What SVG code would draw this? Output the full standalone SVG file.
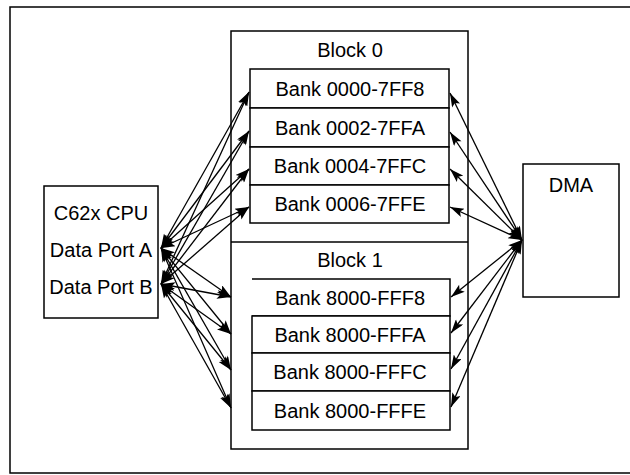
<svg xmlns="http://www.w3.org/2000/svg" width="630" height="475" viewBox="0 0 630 475">
<style>
.box{fill:#fff;stroke:#000;stroke-width:1.5}
.ln{fill:none;stroke:#000;stroke-width:1.5}
.t{font-family:"Liberation Sans",Arial,sans-serif;font-size:20px;fill:#000;text-anchor:middle}
.c{fill:none;stroke:#000;stroke-width:1.3;marker-start:url(#ah);marker-end:url(#ah)}
</style>
<defs>
<marker id="ah" viewBox="0 0 14 9" refX="14" refY="4.5" markerWidth="15" markerHeight="9" markerUnits="userSpaceOnUse" orient="auto-start-reverse">
<path d="M0,0 L14,4.5 L0,9 L3,4.5 z" fill="#000"/>
</marker>
</defs>
<rect x="10" y="7" width="622" height="466" class="box"/>
<g id="memory">
<rect x="231" y="31" width="237" height="418" class="box"/>
<line x1="231" y1="242" x2="468" y2="242" class="ln"/>
</g>
<g id="block0">
<text x="350" y="57" class="t">Block 0</text>
</g>
<g id="bank0"><rect x="250" y="69" width="199" height="39" class="box"/><text x="350" y="96" class="t">Bank 0000-7FF8</text></g>
<g id="bank1"><rect x="250" y="108" width="199" height="39" class="box"/><text x="350" y="135" class="t">Bank 0002-7FFA</text></g>
<g id="bank2"><rect x="250" y="147" width="199" height="38" class="box"/><text x="350" y="173" class="t">Bank 0004-7FFC</text></g>
<g id="bank3"><rect x="250" y="185" width="199" height="38" class="box"/><text x="350" y="211" class="t">Bank 0006-7FFE</text></g>
<g id="block1">
<text x="350" y="267" class="t">Block 1</text>
</g>
<g id="bank4"><path d="M252,279 H450 V316 H252" class="ln"/><text x="350" y="305" class="t">Bank 8000-FFF8</text></g>
<g id="bank5"><rect x="252" y="316" width="198" height="37" class="box"/><text x="350" y="342" class="t">Bank 8000-FFFA</text></g>
<g id="bank6"><rect x="252" y="353" width="198" height="38" class="box"/><text x="350" y="379" class="t">Bank 8000-FFFC</text></g>
<g id="bank7"><rect x="252" y="391" width="198" height="39" class="box"/><text x="350" y="418" class="t">Bank 8000-FFFE</text></g>
<g id="cpu">
<rect x="44" y="186" width="114" height="132" class="box"/>
<text x="101" y="220" class="t">C62x CPU</text>
<text x="101" y="257" class="t">Data Port A</text>
<text x="101" y="294" class="t">Data Port B</text>
</g>
<g id="dma">
<rect x="523" y="164" width="96" height="133" class="box"/>
<text x="571" y="192" class="t">DMA</text>
</g>
<g id="connectors">
<line x1="161" y1="248" x2="249" y2="92" class="c"/>
<line x1="161" y1="248" x2="249" y2="131" class="c"/>
<line x1="161" y1="248" x2="249" y2="169" class="c"/>
<line x1="161" y1="248" x2="249" y2="207" class="c"/>
<line x1="161" y1="248" x2="231" y2="297" class="c"/>
<line x1="161" y1="248" x2="231" y2="334" class="c"/>
<line x1="161" y1="248" x2="231" y2="370" class="c"/>
<line x1="161" y1="248" x2="231" y2="408" class="c"/>
<line x1="161" y1="284" x2="249" y2="92" class="c"/>
<line x1="161" y1="284" x2="249" y2="131" class="c"/>
<line x1="161" y1="284" x2="249" y2="169" class="c"/>
<line x1="161" y1="284" x2="249" y2="207" class="c"/>
<line x1="161" y1="284" x2="231" y2="297" class="c"/>
<line x1="161" y1="284" x2="231" y2="334" class="c"/>
<line x1="161" y1="284" x2="231" y2="370" class="c"/>
<line x1="161" y1="284" x2="231" y2="408" class="c"/>
<line x1="522" y1="240" x2="450" y2="93" class="c"/>
<line x1="522" y1="240" x2="450" y2="132" class="c"/>
<line x1="522" y1="240" x2="450" y2="169" class="c"/>
<line x1="522" y1="240" x2="450" y2="207" class="c"/>
<line x1="522" y1="240" x2="451" y2="297" class="c"/>
<line x1="522" y1="240" x2="451" y2="333" class="c"/>
<line x1="522" y1="240" x2="451" y2="369" class="c"/>
<line x1="522" y1="240" x2="451" y2="407" class="c"/>
</g>
</svg>
